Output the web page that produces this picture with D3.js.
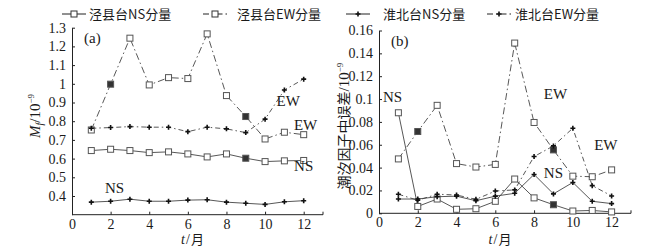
<!DOCTYPE html>
<html>
<head>
<meta charset="utf-8">
<script src="https://cdn.jsdelivr.net/npm/d3@7"></script>
<style>
  body { margin: 0; background: #fff; }
  text { font-family: "Liberation Serif", "Noto Sans CJK SC", serif; fill: #1a1a1a; }
</style>
</head>
<body>
<div id="chart"></div>
<script>
var months = [1, 2, 3, 4, 5, 6, 7, 8, 9, 10, 11, 12];

// (a) Mf
var jxNS_a = [0.643, 0.650, 0.643, 0.632, 0.636, 0.625, 0.609, 0.625, 0.602, 0.584, 0.588, 0.590];
var jxEW_a = [0.753, 0.998, 1.244, 0.994, 1.033, 1.028, 1.267, 0.937, 0.825, 0.705, 0.741, 0.728];
var hbNS_a = [0.367, 0.372, 0.383, 0.372, 0.372, 0.378, 0.380, 0.367, 0.361, 0.355, 0.369, 0.375];
var hbEW_a = [0.762, 0.766, 0.771, 0.768, 0.768, 0.744, 0.768, 0.759, 0.739, 0.811, 0.967, 1.025];

// (b) 中误差
var jxNS_b = [0.088, 0.006, 0.0125, 0.0035, 0.004, 0.0105, 0.030, 0.0135, 0.0075, 0.002, 0.0025, 0.0012];
var jxEW_b = [0.0476, 0.0716, 0.0945, 0.0435, 0.0405, 0.0428, 0.149, 0.0795, 0.0555, 0.0325, 0.032, 0.038];
var hbNS_b = [0.0125, 0.0125, 0.0145, 0.015, 0.011, 0.015, 0.0175, 0.034, 0.017, 0.027, 0.0105, 0.0085];
var hbEW_b = [0.0167, 0.0114, 0.0167, 0.016, 0.0122, 0.0195, 0.0205, 0.0497, 0.059, 0.0745, 0.0242, 0.0152];

var seriesNames = ["泾县台NS分量", "泾县台EW分量", "淮北台NS分量", "淮北台EW分量"];
var xTicks = [0, 2, 4, 6, 8, 10, 12];
var yTicksA = [0.4, 0.5, 0.6, 0.7, 0.8, 0.9, 1.0, 1.1, 1.2, 1.3];
var yTicksB = [0, 0.02, 0.04, 0.06, 0.08, 0.1, 0.12, 0.14, 0.16];
// filled marker months per series
var filledA = [[9], [2, 9], [], []];
var filledB = [[9], [2, 9], [], []];

var W = 652, H = 248;
var svg = d3.select("#chart").append("svg").attr("width", W).attr("height", H);

var styles = [
  { dash: null, marker: "square" },
  { dash: "7,3,1.5,3", marker: "square" },
  { dash: null, marker: "plus" },
  { dash: "5,3,1.5,3", marker: "plus" }
];
var lineColor = "#444";

function drawPanel(opt) {
  var x = d3.scaleLinear().domain([0, 13]).range([opt.x0, opt.x1]);
  var y = d3.scaleLinear().domain(opt.yDomain).range([opt.yBottom, opt.yTop]);
  var g = svg.append("g");

  // axes with inward ticks
  var xAxis = d3.axisBottom(x).tickValues(xTicks).tickSize(-3).tickPadding(4)
    .tickSizeOuter(0).tickFormat(d3.format("d"));
  var gx = g.append("g").attr("transform", "translate(0," + opt.yBottom + ")").call(xAxis);
  var yAxis = d3.axisLeft(y).tickValues(opt.yTicks).tickSize(-3).tickPadding(6)
    .tickSizeOuter(0).tickFormat(d3.format("~g"));
  var gy = g.append("g").attr("transform", "translate(" + opt.x0 + ",0)").call(yAxis);
  [gx, gy].forEach(function(a) {
    a.selectAll("path").attr("stroke", "#222");
    a.selectAll("line").attr("stroke", "#222");
    a.selectAll("text").style("font-size", "14px").attr("fill", "#1a1a1a");
  });
  gx.select(".domain").attr("d", "M" + opt.x0 + ",0H" + opt.x1 + "V-3");

  var line = d3.line().x(function(d) { return x(d[0]); }).y(function(d) { return y(d[1]); });

  opt.series.forEach(function(vals, si) {
    var pts = months.map(function(m, i) { return [m, vals[i]]; });
    var st = styles[si];
    g.append("path").datum(pts)
      .attr("d", line)
      .attr("fill", "none")
      .attr("stroke", lineColor)
      .attr("stroke-width", 0.9)
      .attr("stroke-dasharray", st.dash);
    if (st.marker === "square") {
      g.selectAll(null).data(pts).enter().append("rect")
        .attr("x", function(d) { return x(d[0]) - 3; })
        .attr("y", function(d) { return y(d[1]) - 3; })
        .attr("width", 6).attr("height", 6)
        .attr("fill", function(d) { return opt.filled[si].indexOf(d[0]) >= 0 ? "#333" : "#fff"; })
        .attr("stroke", "#555").attr("stroke-width", 1);
    } else {
      g.selectAll(null).data(pts).enter().append("path")
        .attr("d", function(d) {
          var cx = x(d[0]), cy = y(d[1]);
          return "M" + (cx - 2.5) + "," + cy + "H" + (cx + 2.5) + "M" + cx + "," + (cy - 2.5) + "V" + (cy + 2.5);
        })
        .attr("stroke", "#111").attr("stroke-width", 1.6);
    }
  });

  g.append("text").attr("x", opt.x0 + 12).attr("y", opt.yTop + 15)
    .style("font-size", "15px").text(opt.tag);

  opt.labels.forEach(function(l) {
    g.append("text").attr("x", x(l[0])).attr("y", y(l[1]))
      .attr("text-anchor", "middle").style("font-size", "15px").text(l[2]);
  });

  // x label
  var xl = g.append("text").attr("x", (opt.x0 + opt.x1) / 2 - 5).attr("y", 244)
    .attr("text-anchor", "middle").style("font-size", "14px");
  xl.append("tspan").style("font-style", "italic").text("t");
  xl.append("tspan").attr("dx", 1).text("/");
  xl.append("tspan").attr("dx", 1).style("font-family", "Noto Sans CJK SC").style("font-size", "13px").text("月");
  return g;
}

drawPanel({
  x0: 72, x1: 323, yTop: 27.7, yBottom: 214.7, yDomain: [0.3, 1.3], yTicks: yTicksA,
  series: [jxNS_a, jxEW_a, hbNS_a, hbEW_a], filled: filledA, tag: "(a)",
  labels: [[11.2, 0.88, "EW"], [12.1, 0.755, "EW"], [12.0, 0.535, "NS"], [2.2, 0.415, "NS"]]
});

drawPanel({
  x0: 379, x1: 631, yTop: 30.5, yBottom: 213.3, yDomain: [0, 0.16], yTicks: yTicksB,
  series: [jxNS_b, jxEW_b, hbNS_b, hbEW_b], filled: filledB, tag: "(b)",
  labels: [[0.7, 0.097, "NS"], [9.1, 0.1, "EW"], [11.7, 0.055, "EW"], [9.0, 0.031, "NS"]]
});

// y labels
var yl = svg.append("text").attr("transform", "translate(40,116) rotate(-90)")
  .attr("text-anchor", "middle").style("font-size", "15px");
yl.append("tspan").style("font-style", "italic").text("M");
yl.append("tspan").style("font-style", "italic").style("font-size", "10px").attr("dy", 3).text("f");
yl.append("tspan").attr("dy", -3).text("/10");
yl.append("tspan").style("font-size", "9px").attr("dy", -6).text("−9");

var yl2 = svg.append("text").attr("transform", "translate(349,126) rotate(-90)")
  .attr("text-anchor", "middle").style("font-size", "15px");
yl2.append("tspan").style("font-family", "Noto Sans CJK SC").style("font-size", "14px").text("潮汐因子中误差");
yl2.append("tspan").text("/10");
yl2.append("tspan").style("font-size", "9px").attr("dy", -6).text("−9");

// legend
var legendX = [62, 203, 346, 487];
var legendText = [89, 237, 383, 515];
var lg = svg.append("g").attr("transform", "translate(0,14)");
seriesNames.forEach(function(name, i) {
  var st = styles[i];
  var lx = legendX[i];
  lg.append("line").attr("x1", lx).attr("x2", lx + 24).attr("y1", 0).attr("y2", 0)
    .attr("stroke", "#222").attr("stroke-width", 1)
    .attr("stroke-dasharray", st.dash ? "6,3,1.5,3" : null);
  if (st.marker === "square") {
    lg.append("rect").attr("x", lx + 9).attr("y", -3).attr("width", 6).attr("height", 6)
      .attr("fill", "#fff").attr("stroke", "#333");
  } else {
    lg.append("path").attr("d", "M" + (lx + 9.5) + ",0H" + (lx + 14.5) + "M" + (lx + 12) + ",-2.5V2.5")
      .attr("stroke", "#111").attr("stroke-width", 1.6);
  }
  lg.append("text").attr("x", legendText[i]).attr("y", 5)
    .style("font-family", "Noto Sans CJK SC").style("font-size", "13px").text(name);
});
</script>
</body>
</html>
